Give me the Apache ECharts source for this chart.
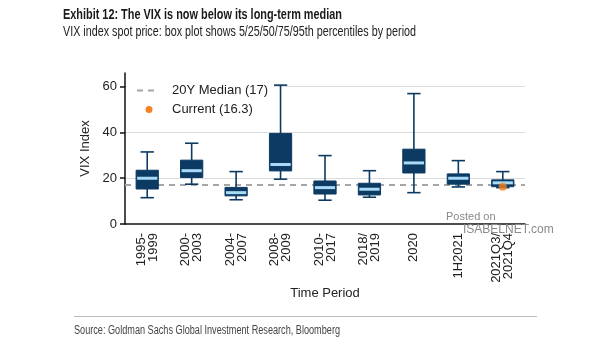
<!DOCTYPE html>
<html>
<head>
<meta charset="utf-8">
<script src="https://cdn.jsdelivr.net/npm/echarts@6/dist/echarts.min.js"></script>
<style>
  html, body { margin: 0; padding: 0; background: #fff; }
  #chart { width: 605px; height: 341px; }
</style>
</head>
<body>
<div id="chart"></div>
<script>
// Periods and VIX percentiles (5 / 25 / 50 / 75 / 95)
const categories = ['1995-\n1999', '2000-\n2003', '2004-\n2007', '2008-\n2009', '2010-\n2017', '2018/\n2019', '2020', '1H2021', '2021Q3/\n2021Q4'];
const p5  = [11.5, 17.4, 10.6, 19.6, 10.4, 11.7, 13.7, 16.2, 15.9];
const p25 = [15.3, 20.3, 12.3, 23.2, 13.1, 12.7, 22.3, 17.4, 16.3];
const p50 = [20.0, 23.3, 13.7, 26.0, 15.9, 15.2, 26.7, 20.0, 18.0];
const p75 = [23.5, 27.9, 16.0, 39.6, 18.8, 17.8, 32.7, 21.9, 19.3];
const p95 = [31.5, 35.3, 22.9, 60.7, 29.9, 23.3, 57.0, 27.7, 22.9];
const yTicks = [0, 20, 40, 60];
const medianLongTerm = 17;
const currentValue = 16.3;
const currentPeriod = '2021Q3/\n2021Q4';

const NAVY = '#0c3a63';
const LIGHT = '#a8dcf6';
const ORANGE = '#f58220';
const sans = '"Liberation Sans", Arial, sans-serif';

// Condensed heading text: squeeze a regular face horizontally to a set width
const measureCtx = document.createElement('canvas').getContext('2d');
function squeezed(text, font, left, top, width, fill) {
  measureCtx.font = font;
  const w = measureCtx.measureText(text).width;
  const sx = width / w;
  return {
    type: 'text', x: left, y: top, scaleX: sx, originX: 0, originY: 0,
    style: { text: text, font: font, fill: fill, textVerticalAlign: 'top' }
  };
}

const boxData = categories.map((c, i) => [i, p5[i], p25[i], p50[i], p75[i], p95[i]]);

function renderBox(params, api) {
  const i = api.value(0);
  const lo = api.coord([i, api.value(1)]);
  const q1 = api.coord([i, api.value(2)]);
  const md = api.coord([i, api.value(3)]);
  const q3 = api.coord([i, api.value(4)]);
  const hi = api.coord([i, api.value(5)]);
  const band = api.size([1, 0])[0];
  const bw = band * 0.5;
  const cw = band * 0.3;
  const x = lo[0];
  const ls = { stroke: NAVY, lineWidth: 1.6 };
  return {
    type: 'group',
    children: [
      { type: 'line', shape: { x1: x, y1: hi[1], x2: x, y2: q3[1] }, style: ls },
      { type: 'line', shape: { x1: x, y1: q1[1], x2: x, y2: lo[1] }, style: ls },
      { type: 'line', shape: { x1: x - cw / 2, y1: hi[1], x2: x + cw / 2, y2: hi[1] }, style: ls },
      { type: 'line', shape: { x1: x - cw / 2, y1: lo[1], x2: x + cw / 2, y2: lo[1] }, style: ls },
      { type: 'rect', shape: { x: x - bw / 2, y: q3[1], width: bw, height: q1[1] - q3[1] },
        style: { fill: NAVY, stroke: NAVY, lineWidth: 1 } },
      { type: 'line', shape: { x1: x - bw / 2 + 1, y1: md[1], x2: x + bw / 2 - 1, y2: md[1] },
        style: { stroke: LIGHT, lineWidth: 3 } }
    ]
  };
}

const chart = echarts.init(document.getElementById('chart'), null, { renderer: 'canvas' });
chart.setOption({
  animation: false,
  backgroundColor: '#fff',
  grid: { left: 125, right: 80, top: 73, bottom: 117 },
  xAxis: {
    type: 'category',
    data: categories,
    name: 'Time Period',
    nameLocation: 'middle',
    nameGap: 62,
    nameTextStyle: { fontFamily: sans, fontSize: 13, color: '#222' },
    axisLine: { lineStyle: { color: '#111', width: 1.5 } },
    axisTick: { alignWithLabel: true, length: 5, lineStyle: { color: '#111', width: 1.5 } },
    axisLabel: { rotate: 90, margin: 9, fontFamily: sans, fontSize: 13, color: '#222', lineHeight: 12 }
  },
  yAxis: {
    type: 'value',
    min: 0,
    max: 66,
    interval: 20,
    name: 'VIX Index',
    nameLocation: 'middle',
    nameGap: 29,
    nameTextStyle: { fontFamily: sans, fontSize: 13, color: '#222' },
    axisLine: { show: true, lineStyle: { color: '#111', width: 1.5 } },
    axisTick: { show: true, length: 5, lineStyle: { color: '#111', width: 1.5 } },
    axisLabel: { showMaxLabel: false, fontFamily: sans, fontSize: 13, color: '#222', margin: 8,
      formatter: v => (yTicks.includes(v) ? String(v) : '') },
    splitLine: { show: false }
  },
  series: [
    {
      // horizontal gridlines at the labelled ticks
      type: 'line', data: [], silent: true, z: 0,
      markLine: {
        symbol: 'none', silent: true, label: { show: false }, z: 0,
        lineStyle: { color: '#dcdcdc', width: 1, type: 'solid' },
        data: yTicks.filter(v => v > 0).map(v => ({ yAxis: v }))
      }
    },
    {
      name: '20Y Median (' + medianLongTerm + ')',
      type: 'line', data: [], silent: true, z: 1,
      markLine: {
        symbol: 'none', silent: true, label: { show: false }, z: 1,
        lineStyle: { color: '#a6a6a6', width: 2, type: [6, 5] },
        data: [{ yAxis: medianLongTerm }]
      }
    },
    {
      type: 'custom',
      renderItem: renderBox,
      data: boxData,
      encode: { x: 0, y: [1, 2, 3, 4, 5] },
      z: 3
    },
    {
      name: 'Current (' + currentValue + ')',
      type: 'scatter',
      data: [[currentPeriod, currentValue]],
      symbol: 'circle',
      symbolSize: 8,
      itemStyle: { color: ORANGE },
      z: 5
    }
  ],
  graphic: [
    squeezed('Exhibit 12: The VIX is now below its long-term median', 'bold 15px ' + sans, 63, 7, 279, '#1a1a1a'),
    squeezed('VIX index spot price: box plot shows 5/25/50/75/95th percentiles by period', '14px ' + sans, 63, 25, 353, '#222'),
    // legend panel
    { type: 'rect', shape: { x: 127, y: 80, width: 147, height: 38 }, style: { fill: '#fff' }, z: 5 },
    { type: 'line', shape: { x1: 137, y1: 90.5, x2: 158, y2: 90.5 }, z: 6,
      style: { stroke: '#a6a6a6', lineWidth: 2, lineDash: [6, 5] } },
    { type: 'text', left: 172, top: 84, z: 6,
      style: { text: '20Y Median (' + medianLongTerm + ')', font: '13px ' + sans, fill: '#222' } },
    { type: 'circle', shape: { cx: 149, cy: 109.5, r: 3.5 }, style: { fill: ORANGE }, z: 6 },
    { type: 'text', left: 172, top: 103, z: 6,
      style: { text: 'Current (' + currentValue + ')', font: '13px ' + sans, fill: '#222' } },
    // watermark
    { type: 'text', left: 446, top: 211, z: 10,
      style: { text: 'Posted on', font: '11px ' + sans, fill: '#8a8a8a' } },
    { type: 'text', left: 463, top: 224, z: 10,
      style: { text: 'ISABELNET.com', font: '12px ' + sans, fill: '#8a8a8a' } },
    // source
    { type: 'line', shape: { x1: 74, y1: 316.5, x2: 537, y2: 316.5 },
      style: { stroke: '#bdbdbd', lineWidth: 1 } },
    squeezed('Source: Goldman Sachs Global Investment Research, Bloomberg', '12px ' + sans, 74, 325, 266, '#444')
  ]
});
</script>
</body>
</html>
